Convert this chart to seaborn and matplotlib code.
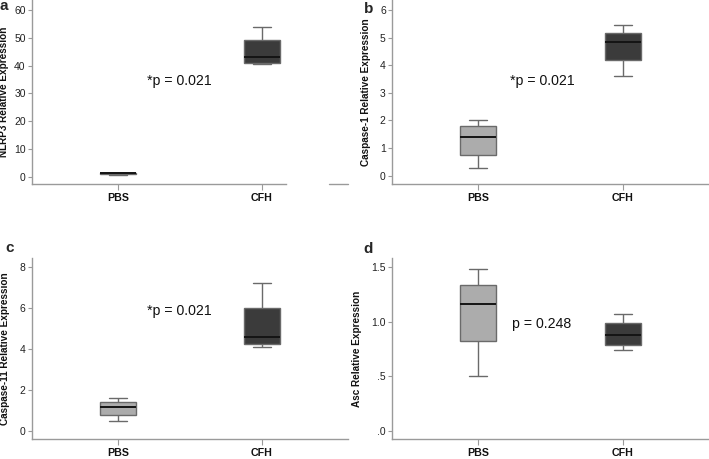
import numpy as np
import pandas as pd
import seaborn as sns
import matplotlib.pyplot as plt

# five-number summaries: min, q1, median, q3, max
groups = ['PBS', 'CFH']
nlrp3_pbs = [0.72, 0.95, 1.15, 1.35, 1.45]
nlrp3_cfh = [40.4, 40.8, 43.0, 49.3, 53.9]
casp1_pbs = [0.28, 0.75, 1.41, 1.79, 2.02]
casp1_cfh = [3.60, 4.19, 4.83, 5.16, 5.44]
casp11_pbs = [0.51, 0.80, 1.17, 1.44, 1.60]
casp11_cfh = [4.11, 4.24, 4.59, 6.00, 7.20]
asc_pbs = [0.502, 0.822, 1.165, 1.333, 1.478]
asc_cfh = [0.741, 0.789, 0.873, 0.985, 1.071]

ylabels = ['NLRP3 Relative Expression', 'Caspase-1 Relative Expression',
           'Caspase-11 Relative Expression', 'Asc Relative Expression']
pvals = ['*p = 0.021', '*p = 0.021', '*p = 0.021', 'p = 0.248']
letters = ['a', 'b', 'c', 'd']
yticks = [[0, 10, 20, 30, 40, 50, 60], [0, 1, 2, 3, 4, 5, 6],
          [0, 2, 4, 6, 8], [0, 0.5, 1.0, 1.5]]
ytick_labels = [None, None, None, ['.0', '.5', '1.0', '1.5']]
ylims = [(-2.75, 63.6), (-0.31, 6.36), (-0.4, 8.4), (-0.081, 1.58)]

panels = [(nlrp3_pbs, nlrp3_cfh), (casp1_pbs, casp1_cfh),
          (casp11_pbs, casp11_cfh), (asc_pbs, asc_cfh)]

sns.set_style('white')
plt.rcParams['font.family'] = ['Liberation Sans', 'DejaVu Sans']

fig = plt.figure(figsize=(7.09, 4.59), dpi=100)
rects = [[0.0451, 0.5985, 0.4457, 0.4015], [0.5529, 0.5985, 0.4471, 0.4015],
         [0.0451, 0.0425, 0.4457, 0.3948], [0.5529, 0.0425, 0.4471, 0.3948]]
text_pos = [(0.465, 0.56), (0.473, 0.56), (0.465, 0.71), (0.472, 0.64)]
label_x = [-0.072, -0.066, -0.07, -0.094]
letter_pos = [(0, 449), (364, 446), (5, 207), (363, 206)]

for i, (pbs, cfh) in enumerate(panels):
    ax = fig.add_axes(rects[i])
    df = pd.DataFrame({'group': ['PBS'] * len(pbs) + ['CFH'] * len(cfh),
                       'value': pbs + cfh})
    sns.boxplot(data=df, x='group', y='value', hue='group', order=groups,
                palette={'PBS': '#acacac', 'CFH': '#3b3b3b'}, width=0.25,
                whis=(0, 100), linecolor='#6a6a6a', linewidth=1.0,
                medianprops=dict(color='#141414', linewidth=1.4),
                legend=False, ax=ax)
    ax.set_xlim(-0.6, 1.6)
    ax.set_ylim(*ylims[i])
    ax.set_yticks(yticks[i])
    if ytick_labels[i]:
        ax.set_yticklabels(ytick_labels[i])
    ax.set_xlabel('')
    ax.set_ylabel(ylabels[i], fontsize=7.2, fontweight='bold', color='#111111')
    ax.yaxis.set_label_coords(label_x[i], 0.5)
    for s in ['top', 'right']:
        ax.spines[s].set_visible(False)
    for s in ['left', 'bottom']:
        ax.spines[s].set_color('#9a9a9a')
        ax.spines[s].set_linewidth(1.0)
    ax.tick_params(axis='y', left=True, length=3, width=0.8, color='#9a9a9a',
                   pad=1.5, labelsize=7.5, labelcolor='#222222')
    ax.tick_params(axis='x', bottom=True, length=4, width=0.8, color='#9a9a9a',
                   pad=2.0, labelsize=7.7, labelcolor='#111111')
    for lab in ax.get_xticklabels():
        lab.set_fontweight('bold')
    ax.text(*text_pos[i], pvals[i], transform=ax.transAxes, ha='center',
            va='center', fontsize=10.2, color='#111111')
    if i == 0:
        # axis line in panel a is broken near its right end
        ax.spines['bottom'].set_bounds(-0.6, 1.17)
        ax.axhline(ylims[i][0], xmin=(1.47 + 0.6) / 2.2, xmax=1.0,
                   color='#9a9a9a', linewidth=1.0, clip_on=False)
    fig.text(letter_pos[i][0] / 709, letter_pos[i][1] / 459, letters[i],
             fontsize=11, fontweight='bold', ha='left', va='baseline')

fig.savefig('out.png', dpi=100)
